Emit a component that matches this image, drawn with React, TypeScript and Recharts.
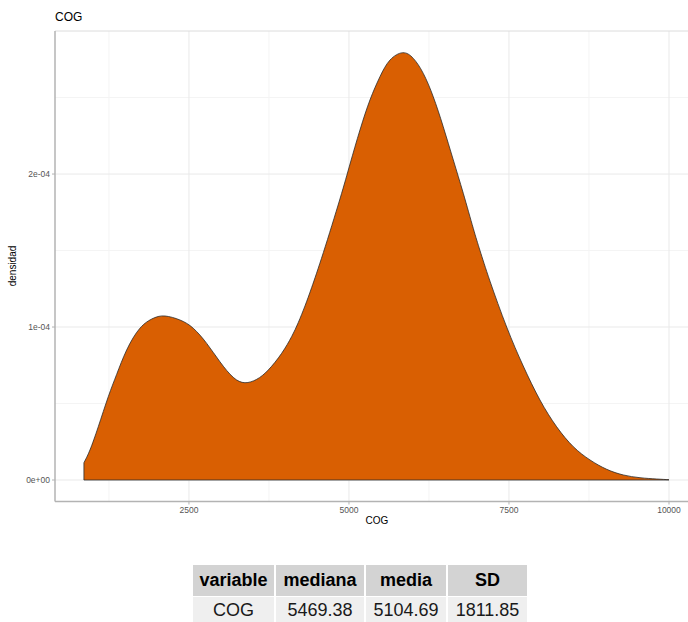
import React from 'react';
import { AreaChart, Area, XAxis, YAxis, CartesianGrid, ReferenceLine } from 'recharts';

// density curve of COG
const cogValues = [
  859, 953, 1083, 1239, 1370, 1527, 1734, 1942, 2125, 2359, 2567, 2777, 2984, 3192, 3375, 3558,
  3739, 3948, 4105, 4208, 4313, 4417, 4600, 4859, 5016, 5172, 5328, 5484, 5641, 5839, 6005, 6161,
  6317, 6473, 6630, 6786, 6942, 7047, 7203, 7464, 7723, 7984, 8245, 8505, 8766, 9027, 9286, 9547,
  9808, 10000,
];
const densityValues = [
  0.113e-4, 0.196e-4, 0.348e-4, 0.544e-4, 0.69e-4, 0.85e-4, 0.992e-4, 1.057e-4, 1.072e-4, 1.046e-4,
  0.992e-4, 0.893e-4, 0.773e-4, 0.671e-4, 0.636e-4, 0.658e-4, 0.719e-4, 0.828e-4, 0.938e-4,
  1.029e-4, 1.138e-4, 1.258e-4, 1.487e-4, 1.837e-4, 2.065e-4, 2.288e-4, 2.484e-4, 2.636e-4,
  2.745e-4, 2.793e-4, 2.756e-4, 2.658e-4, 2.505e-4, 2.309e-4, 2.092e-4, 1.874e-4, 1.645e-4,
  1.5e-4, 1.3e-4, 1.0e-4, 0.745e-4, 0.523e-4, 0.348e-4, 0.218e-4, 0.131e-4, 0.07e-4, 0.033e-4,
  0.015e-4, 0.0065e-4, 0.002e-4,
];

const xTicks = [2500, 5000, 7500, 10000];
const xMinor = [1250, 3750, 6250, 8750];
const yTicks = [0, 1e-4, 2e-4];
const yTickLabels = ['0e+00', '1e-04', '2e-04'];
const yMinor = [0.5e-4, 1.5e-4, 2.5e-4];

const tableHeaders = ['variable', 'mediana', 'media', 'SD'];
const tableRow = ['COG', '5469.38', '5104.69', '1811.85'];
const colWidths = [81, 88, 80, 79];

const data = cogValues.map((x, i) => ({ x, y: densityValues[i] }));
const firstX = cogValues[0];
const lastX = cogValues[cogValues.length - 1];

const font = '"Liberation Sans", Arial, sans-serif';
const tickStyle = { fontSize: 8.5, fill: '#555', fontFamily: font };

export default function App() {
  return (
    <div style={{ position: 'absolute', left: 0, top: 0, width: 688, height: 622, background: '#fff', fontFamily: font, overflow: 'hidden' }}>
      <div style={{ position: 'absolute', left: 55, top: 10, fontSize: 12, color: '#000' }}>COG</div>
      <AreaChart width={688} height={530} data={data} margin={{ top: 31, right: 0, bottom: 0, left: 10 }}>
        <CartesianGrid stroke="#f4f4f4" verticalValues={xMinor} horizontalValues={yMinor} />
        <CartesianGrid stroke="#e9e9e9" verticalValues={xTicks} horizontalValues={yTicks} />
        <XAxis
          dataKey="x"
          type="number"
          domain={[407, 10297]}
          allowDataOverflow
          ticks={xTicks}
          tick={tickStyle}
          tickSize={3}
          tickMargin={2}
          height={28.5}
          axisLine={{ stroke: '#b3b3b3', strokeWidth: 1.5 }}
          tickLine={{ stroke: '#b3b3b3' }}
        />
        <YAxis
          type="number"
          domain={[-1.405e-5, 2.935e-4]}
          allowDataOverflow
          ticks={yTicks}
          tickFormatter={(v: number) => yTickLabels[yTicks.indexOf(v)] ?? ''}
          tick={tickStyle}
          tickSize={3}
          tickMargin={2}
          width={45}
          axisLine={{ stroke: '#b3b3b3', strokeWidth: 1.5 }}
          tickLine={{ stroke: '#b3b3b3' }}
        />
        <ReferenceLine y={2.935e-4} stroke="#dcdcdc" />
        <Area
          dataKey="y"
          type="natural"
          baseValue={0}
          fill="#D95F02"
          fillOpacity={1}
          stroke="#2b2b2b"
          strokeWidth={0.8}
          isAnimationActive={false}
        />
        <ReferenceLine segment={[{ x: firstX, y: 0 }, { x: lastX, y: 0 }]} stroke="#2b2b2b" strokeWidth={0.8} />
        <ReferenceLine segment={[{ x: firstX, y: 0 }, { x: firstX, y: densityValues[0] }]} stroke="#2b2b2b" strokeWidth={0.8} />
      </AreaChart>
      <div style={{ position: 'absolute', left: 352, top: 515, fontSize: 10, color: '#000', width: 50, textAlign: 'center' }}>COG</div>
      <div
        style={{
          position: 'absolute', left: 12, top: 266, fontSize: 10, color: '#000',
          transform: 'translate(-50%, -50%) rotate(-90deg)', whiteSpace: 'nowrap',
        }}
      >
        densidad
      </div>
      <div style={{ position: 'absolute', left: 193, top: 565 }}>
        <div style={{ display: 'flex', gap: 2 }}>
          {tableHeaders.map((h, i) => (
            <div key={h} style={{ width: colWidths[i], height: 31, background: '#d3d3d3', fontWeight: 'bold', fontSize: 18, lineHeight: '31px', textAlign: 'center', color: '#000' }}>
              {h}
            </div>
          ))}
        </div>
        <div style={{ display: 'flex', gap: 2, marginTop: 1 }}>
          {tableRow.map((c, i) => (
            <div key={i} style={{ width: colWidths[i], height: 26, background: '#efefef', fontSize: 18, lineHeight: '26px', textAlign: 'center', color: '#1a1a1a' }}>
              {c}
            </div>
          ))}
        </div>
      </div>
    </div>
  );
}
